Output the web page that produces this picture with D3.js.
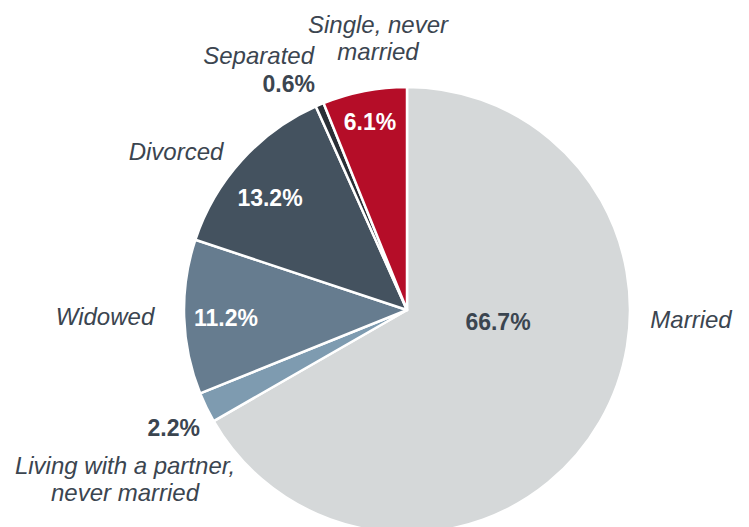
<!DOCTYPE html>
<html>
<head>
<meta charset="utf-8">
<script src="https://cdn.jsdelivr.net/npm/d3@7"></script>
<style>
  body { margin: 0; background: #fff; }
  text { font-family: "Liberation Sans", Arial, sans-serif; }
</style>
</head>
<body>
<div id="chart"></div>
<script>
const categories = ["Married", "Living with a partner, never married", "Widowed", "Divorced", "Separated", "Single, never married"];
const values = [66.7, 2.2, 11.2, 13.2, 0.6, 6.1];
const valueLabels = ["66.7%", "2.2%", "11.2%", "13.2%", "0.6%", "6.1%"];
const colors = ["#d5d8d9", "#7e9bb0", "#667c8f", "#44525f", "#2a2f36", "#b50d28"];

const width = 749;
const height = 527;
const cx = 407, cy = 310, radius = 223;
const textColor = "#3b4550";

const svg = d3.select("#chart")
    .append("svg")
    .attr("width", width)
    .attr("height", height);

const pie = d3.pie().sort(null).value(d => d);
const arc = d3.arc().innerRadius(0).outerRadius(radius);
const arcs = pie(values);

const g = svg.append("g").attr("transform", `translate(${cx},${cy})`);

g.selectAll("path")
    .data(arcs)
    .join("path")
    .attr("d", arc)
    .attr("fill", (d, i) => colors[i])
    .attr("stroke", "#fff")
    .attr("stroke-width", 2.5)
    .attr("stroke-linejoin", "round");

// value labels inside / near the slices (offsets from centre)
const valuePos = [
    { dx: 91, dy: 20, fill: textColor, anchor: "middle" },
    { dx: -207, dy: 126, fill: textColor, anchor: "end" },
    { dx: -181, dy: 16, fill: "#fff", anchor: "middle" },
    { dx: -137, dy: -104, fill: "#fff", anchor: "middle" },
    { dx: -92, dy: -218, fill: textColor, anchor: "end" },
    { dx: -37, dy: -180, fill: "#fff", anchor: "middle" }
];

g.selectAll("text.val")
    .data(arcs)
    .join("text")
    .attr("class", "val")
    .attr("x", (d, i) => valuePos[i].dx)
    .attr("y", (d, i) => valuePos[i].dy)
    .attr("text-anchor", (d, i) => valuePos[i].anchor)
    .attr("fill", (d, i) => valuePos[i].fill)
    .attr("font-weight", "bold")
    .attr("font-size", "23px")
    .text((d, i) => valueLabels[i]);

// category labels (outside the pie)
const catLines = [
    ["Married"],
    ["Living with a partner,", "never married"],
    ["Widowed"],
    ["Divorced"],
    ["Separated"],
    ["Single, never", "married"]
];
const catPos = [
    { dx: 284, dy: 18, anchor: "middle" },
    { dx: -282, dy: 164, anchor: "middle" },
    { dx: -302, dy: 15, anchor: "middle" },
    { dx: -231, dy: -150, anchor: "middle" },
    { dx: -93, dy: -246, anchor: "end" },
    { dx: -29, dy: -277, anchor: "middle" }
];

catLines.forEach((lines, i) => {
    const t = g.append("text")
        .attr("x", catPos[i].dx)
        .attr("y", catPos[i].dy)
        .attr("text-anchor", catPos[i].anchor)
        .attr("fill", textColor)
        .attr("font-style", "italic")
        .attr("font-size", "24px");
    lines.forEach((line, j) => {
        t.append("tspan")
            .attr("x", catPos[i].dx)
            .attr("dy", j === 0 ? 0 : 27)
            .text(line);
    });
});
</script>
</body>
</html>
